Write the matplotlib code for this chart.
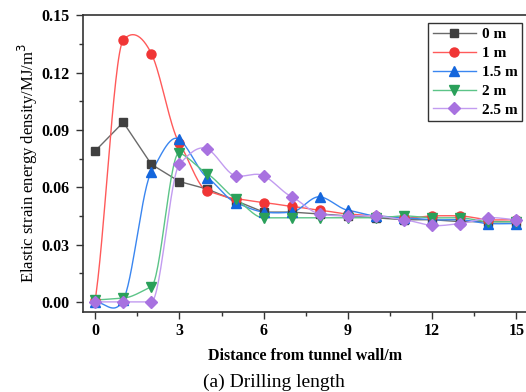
import numpy as np
import matplotlib
matplotlib.use("Agg")
import matplotlib.pyplot as plt
from matplotlib.ticker import MultipleLocator

plt.rcParams['font.family'] = ['Liberation Serif', 'DejaVu Serif']

distance = list(range(16))
labels = ["0 m", "1 m", "1.5 m", "2 m", "2.5 m"]
s0 = [0.079, 0.094, 0.072, 0.063, 0.059, 0.053, 0.047, 0.047, 0.046, 0.045, 0.044, 0.043, 0.043, 0.042, 0.042, 0.042]
s1 = [0.001, 0.137, 0.130, 0.083, 0.058, 0.054, 0.052, 0.050, 0.048, 0.046, 0.045, 0.044, 0.045, 0.045, 0.043, 0.043]
s15 = [0.000, 0.001, 0.068, 0.085, 0.065, 0.052, 0.047, 0.047, 0.055, 0.048, 0.045, 0.044, 0.043, 0.043, 0.041, 0.041]
s2 = [0.001, 0.002, 0.008, 0.078, 0.067, 0.054, 0.044, 0.044, 0.044, 0.044, 0.044, 0.045, 0.044, 0.044, 0.042, 0.042]
s25 = [0.000, 0.000, 0.000, 0.072, 0.080, 0.066, 0.066, 0.055, 0.046, 0.045, 0.045, 0.043, 0.040, 0.041, 0.044, 0.043]
series = [s0, s1, s15, s2, s25]

marker_colors = ["#3f3f3f", "#f03535", "#1466dc", "#2aa05a", "#a872e0"]
line_colors = ["#6a6a6a", "#ff5a5a", "#3a86f0", "#5cc488", "#c29cf0"]
markers = ["s", "o", "^", "v", "D"]
msizes = [6, 6.5, 7, 7, 6]
smooth = [False, True, True, True, True]


def akima(x, y, n=30, tension=0.7):
    x = np.asarray(x, float)
    y = np.asarray(y, float)
    h = np.diff(x)
    d = np.diff(y) / h
    m = len(d)
    dd = np.empty(m + 4)
    dd[2:m + 2] = d
    dd[1] = 2 * dd[2] - dd[3]
    dd[0] = 2 * dd[1] - dd[2]
    dd[m + 2] = 2 * dd[m + 1] - dd[m]
    dd[m + 3] = 2 * dd[m + 2] - dd[m + 1]
    t = np.empty(len(x))
    for i in range(len(x)):
        w1 = abs(dd[i + 3] - dd[i + 2])
        w2 = abs(dd[i + 1] - dd[i])
        if w1 + w2 < 1e-12:
            t[i] = 0.5 * (dd[i + 1] + dd[i + 2])
        else:
            t[i] = (w1 * dd[i + 1] + w2 * dd[i + 2]) / (w1 + w2)
    t[0] = d[0]
    t[-1] = d[-1]
    t = t * tension
    xs, ys = [], []
    for i in range(len(x) - 1):
        u = np.linspace(0, 1, n, endpoint=(i == len(x) - 2))
        h00 = 2 * u ** 3 - 3 * u ** 2 + 1
        h10 = u ** 3 - 2 * u ** 2 + u
        h01 = -2 * u ** 3 + 3 * u ** 2
        h11 = u ** 3 - u ** 2
        xs.append(x[i] + u * h[i])
        ys.append(h00 * y[i] + h10 * h[i] * t[i] + h01 * y[i + 1] + h11 * h[i] * t[i + 1])
    return np.concatenate(xs), np.concatenate(ys)


fig = plt.figure(figsize=(5.26, 3.92), dpi=100)
ax = fig.add_axes([0.158, 0.205, 0.845, 0.756])

handles = []
for s, lab, mc, lc, mk, ms, sm in zip(series, labels, marker_colors, line_colors, markers, msizes, smooth):
    if sm:
        xs, ys = akima(distance, s)
    else:
        xs, ys = np.asarray(distance, float), np.asarray(s, float)
    ax.plot(xs, ys, color=lc, lw=1.0, zorder=2)
    ax.plot(distance, s, ls="none", marker=mk, ms=ms, color=mc, zorder=3)
    h, = ax.plot([], [], color=lc, lw=1.0, marker=mk, ms=ms, mfc=mc, mec=mc, label=lab)
    handles.append(h)

ax.set_xlim(-0.43, 15.4)
ax.set_ylim(-0.0051, 0.15)
ax.xaxis.set_major_locator(MultipleLocator(3))
ax.xaxis.set_minor_locator(MultipleLocator(1.5))
ax.yaxis.set_major_locator(MultipleLocator(0.03))
ax.yaxis.set_minor_locator(MultipleLocator(0.015))
ax.yaxis.set_major_formatter(matplotlib.ticker.FormatStrFormatter('%.2f'))
ax.tick_params(which='both', direction='out', color='#333333', width=1)
ax.tick_params(which='major', length=5, labelsize=11.5)
ax.tick_params(axis='y', which='major', pad=5)
ax.tick_params(which='minor', length=3)
for lbl in ax.get_xticklabels() + ax.get_yticklabels():
    lbl.set_fontweight('bold')
for sp in ax.spines.values():
    sp.set_color('#333333')
    sp.set_linewidth(1.2)
ax.spines['right'].set_visible(False)

ax.set_xlabel("Distance from tunnel wall/m", fontsize=11.5, fontweight='bold', labelpad=6)
ax.set_ylabel("Elastic strain energy density/MJ/m$^3$", fontsize=12, labelpad=1)

leg = ax.legend(handles=handles, loc='upper right', bbox_to_anchor=(0.988, 0.974),
                borderaxespad=0, prop={'weight': 'bold', 'size': 11},
                frameon=True, fancybox=False, edgecolor='black', handlelength=2.8,
                borderpad=0.3, labelspacing=0.34, handletextpad=0.4)
leg.get_frame().set_linewidth(1.0)

fig.text(0.52, 0.003, "(a) Drilling length", ha='center', va='bottom', fontsize=14)

fig.savefig("out.png", dpi=100)
